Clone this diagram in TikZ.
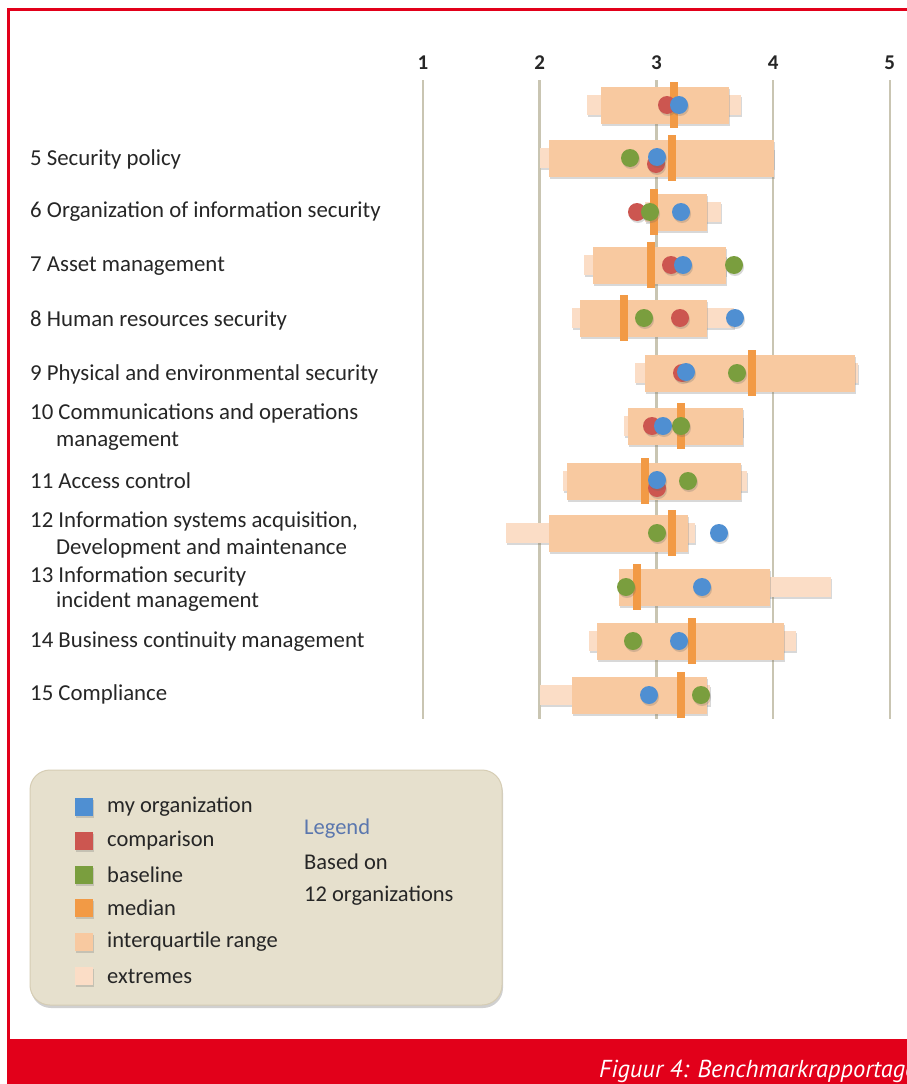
\documentclass[tikz,border=0pt]{standalone}
\usepackage{fontspec}
\setmainfont{Carlito}
\newfontfamily\capfont{PT Sans}
\usetikzlibrary{shadows}
\definecolor{frame}{HTML}{E2001A}
\definecolor{axisline}{HTML}{C9C5B2}
\definecolor{iqr}{HTML}{F8C9A0}
\definecolor{extr}{HTML}{FBDDC6}
\definecolor{med}{HTML}{F29A45}
\definecolor{myorg}{HTML}{4F8FD2}
\definecolor{comp}{HTML}{CC5650}
\definecolor{base}{HTML}{7A9E3E}
\definecolor{legfill}{HTML}{E6E0CD}
\definecolor{legdraw}{HTML}{D6CDB4}
\definecolor{legblue}{HTML}{5B77AE}
\definecolor{txt}{HTML}{262626}
\tikzset{
  shad/.style={drop shadow={shadow xshift=1pt,shadow yshift=-2pt,opacity=0.25,fill=black!60}},
  exbox/.style={fill=extr,shad},
  iqbox/.style={fill=iqr,shad},
  medbar/.style={fill=med},
  dot/.style={shad},
  rowlabel/.style={anchor=west,inner sep=0pt,text=txt,font=\fontsize{22.8}{26}\selectfont},
  axlabel/.style={inner sep=0pt,text=txt,font=\fontsize{21}{25}\selectfont\bfseries},
  leglabel/.style={anchor=west,inner sep=0pt,text=txt,font=\fontsize{22.5}{26}\selectfont},
  legsq/.style={minimum size=18pt,inner sep=0pt,shad},
}
\begin{document}
\begin{tikzpicture}[x=1pt,y=-1pt]
\useasboundingbox (0,0) rectangle (907,1084);
\fill[white] (0,0) rectangle (907,1084);
% frame
\draw[frame,line width=3pt] (8.7,1040) -- (8.7,9.8) -- (907,9.8);
\fill[frame] (7.2,1039.3) rectangle (907,1084);
\node[anchor=base west,inner sep=0pt,text=white,font=\fontsize{24.5}{28}\capfont\itshape] (cap) at (599,1077) {Figuur 4: Benchmarkrapportage};
% axis
\foreach \v [count=\i] in {1,2,3,4,5}{
  \pgfmathsetmacro{\xx}{423+(\v-1)*116.7}
  \node[axlabel] (ax\i) at (\xx,63) {\v};
  \draw[axisline,line width=2.5pt] (\xx,80) -- (\xx,719);
}
% rows: y, extL, extR, iqrL, iqrR, med
\foreach \y/\el/\er/\il/\ir/\m in {
  105/587/741/601/729/674,
  158/540/774/549/774/672,
  212/645/721/657/707/654,
  265/584/726/593/726/651,
  318/572/734/580/707/624,
  373/635/858/645/855/752,
  426/624/743/628/743/681,
  481/563/747/567/741/645,
  533/506/695/549/688/672,
  587/619/831/619/770/637,
  641/589/796/597/784/692,
  695/540/710/572/707/681}{
  \fill[exbox] (\el,\y-10) rectangle (\er,\y+10);
  \fill[iqbox] (\il,\y-18.5) rectangle (\ir,\y+18.5);
  \fill[medbar] (\m-4,\y-23) rectangle (\m+4,\y+23);
}
% dots: comparison, baseline, my organization
\foreach \x/\y in {667/105,656/164,637/212,671/265,680/318,682/373,652/426,657/488}
  \fill[comp,dot] (\x,\y) circle (9);
\foreach \x/\y in {630/158,650/212,734/265,644/318,737/373,681/426,688/481,657/533,626/587,633/641,701/695}
  \fill[base,dot] (\x,\y) circle (9);
\foreach \x/\y in {679/105,657/157,681/212,683/265,735/318,686/372,663/426,657/480,719/533,702/587,679/641,649/695}
  \fill[myorg,dot] (\x,\y) circle (9);
% labels
\node[rowlabel] (l5) at (30,159) {5 Security policy};
\node[rowlabel] (l6) at (30,212) {6 Organization of information security};
\node[rowlabel] (l7) at (30,266) {7 Asset management};
\node[rowlabel] (l8) at (30,320) {8 Human resources security};
\node[rowlabel] (l9) at (30,374) {9 Physical and environmental security};
\node[rowlabel] (l10a) at (30,413) {10 Communications and operations};
\node[rowlabel] (l10b) at (56,441) {management};
\node[rowlabel] (l11) at (30,481) {11 Access control};
\node[rowlabel] (l12a) at (30,521) {12 Information systems acquisition,};
\node[rowlabel] (l12b) at (56,548) {Development and maintenance};
\node[rowlabel] (l13a) at (30,576) {13 Information security};
\node[rowlabel] (l13b) at (56,602) {incident management};
\node[rowlabel] (l14) at (30,642) {14 Business continuity management};
\node[rowlabel] (l15) at (30,694) {15 Compliance};
% legend
\draw[legdraw,fill=legfill,rounded corners=20pt,line width=1pt,drop shadow={shadow xshift=1pt,shadow yshift=-3pt,opacity=0.3,fill=black!60}] (30,770) rectangle (502,1005);
\foreach \c/\t/\yy [count=\k] in {myorg/my organization/807,comp/comparison/841,base/baseline/875,med/median/908,iqr/interquartile range/942,extr/extremes/976}{
  \node[legsq,fill=\c] (sq\k) at (84,\yy) {};
  \node[leglabel] (lt\k) at (107,\yy) {\t};
}
\node[leglabel,text=legblue] (legt) at (304,829) {Legend};
\node[leglabel] (based) at (304,862) {Based on};
\node[leglabel] (norg) at (304,896) {12 organizations};
\end{tikzpicture}
\end{document}
